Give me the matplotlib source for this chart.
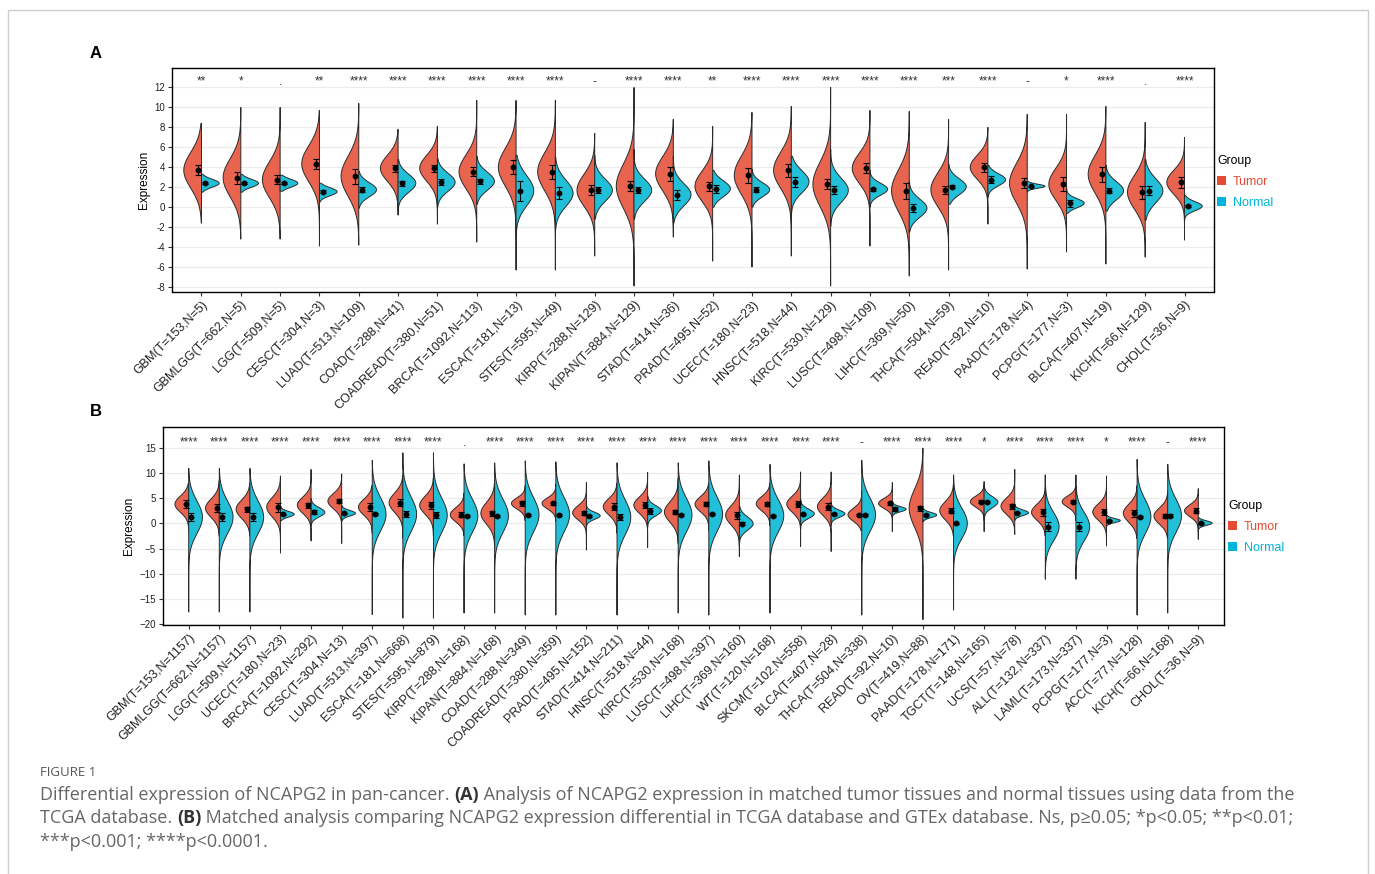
import numpy as np
import matplotlib
matplotlib.use("Agg")
import matplotlib.pyplot as plt
from matplotlib.patches import Patch, Rectangle

plt.rcParams['font.family'] = ['Liberation Sans', 'DejaVu Sans']

RED = '#E8644F'
BLUE = '#22BFD9'
RED_KEY = '#E64B35'
BLUE_KEY = '#00B5D9'
HALF_W = 0.45

# ---------------- panel A : TCGA matched ----------------
labels_a = ["GBM(T=153,N=5)", "GBMLGG(T=662,N=5)", "LGG(T=509,N=5)", "CESC(T=304,N=3)",
            "LUAD(T=513,N=109)", "COAD(T=288,N=41)", "COADREAD(T=380,N=51)", "BRCA(T=1092,N=113)",
            "ESCA(T=181,N=13)", "STES(T=595,N=49)", "KIRP(T=288,N=129)", "KIPAN(T=884,N=129)",
            "STAD(T=414,N=36)", "PRAD(T=495,N=52)", "UCEC(T=180,N=23)", "HNSC(T=518,N=44)",
            "KIRC(T=530,N=129)", "LUSC(T=498,N=109)", "LIHC(T=369,N=50)", "THCA(T=504,N=59)",
            "READ(T=92,N=10)", "PAAD(T=178,N=4)", "PCPG(T=177,N=3)", "BLCA(T=407,N=19)",
            "KICH(T=66,N=129)", "CHOL(T=36,N=9)"]
sig_a = ["**", "*", ".", "**", "****", "****", "****", "****", "****", "****", "-", "****", "****",
         "**", "****", "****", "****", "****", "****", "***", "****", "-", "*", "****", ".", "****"]

tumor_mean_a = [3.7, 2.95, 2.75, 4.35, 3.1, 3.9, 3.9, 3.55, 4.0, 3.55, 1.7, 2.1, 3.35,
                2.1, 3.2, 3.7, 2.3, 3.9, 1.65, 1.75, 4.0, 2.4, 2.3, 3.3, 1.5, 2.5]
tumor_err_a = [0.5, 0.6, 0.45, 0.5, 0.75, 0.35, 0.35, 0.45, 0.7, 0.7, 0.5, 0.5, 0.7,
               0.45, 0.75, 0.65, 0.5, 0.5, 0.8, 0.4, 0.45, 0.5, 0.7, 0.75, 0.65, 0.55]
tumor_sd_a = [1.8, 1.9, 1.8, 1.8, 2.0, 1.3, 1.3, 1.7, 1.9, 1.9, 1.6, 2.2, 1.7,
              1.5, 1.9, 1.8, 2.2, 1.5, 2.1, 1.7, 1.2, 2.0, 1.6, 1.9, 1.7, 1.2]
tumor_lo_a = [-1.6, -3.2, -3.2, -3.9, -3.8, -0.8, -1.7, -3.5, -6.3, -6.3, -4.9, -7.9, -3.0,
              -5.4, -6.0, -4.9, -7.9, -3.9, -6.9, -6.3, -1.7, -6.2, -4.5, -5.7, -5.0, -3.3]
tumor_hi_a = [8.4, 10.0, 10.0, 9.7, 10.4, 7.8, 8.1, 10.7, 10.7, 10.7, 7.4, 12.0, 8.8,
              8.1, 9.5, 10.1, 12.0, 9.7, 9.6, 8.8, 8.0, 9.3, 9.3, 10.1, 8.5, 7.0]
normal_mean_a = [2.4, 2.4, 2.4, 1.55, 1.75, 2.4, 2.5, 2.6, 1.65, 1.4, 1.7, 1.7, 1.25,
                 1.85, 1.75, 2.55, 1.7, 1.8, -0.1, 2.05, 2.75, 2.1, 0.4, 1.65, 1.65, 0.1]
normal_err_a = [0.12, 0.12, 0.12, 0.15, 0.25, 0.25, 0.3, 0.25, 1.0, 0.6, 0.3, 0.3, 0.5,
                0.4, 0.25, 0.5, 0.4, 0.15, 0.4, 0.15, 0.35, 0.05, 0.35, 0.25, 0.45, 0.1]
normal_sd_a = [0.4, 0.4, 0.4, 0.4, 0.7, 0.9, 0.9, 0.9, 1.5, 1.3, 1.1, 1.1, 1.1,
               0.8, 0.7, 1.1, 1.2, 0.6, 0.9, 0.8, 0.6, 0.2, 0.45, 0.9, 1.2, 0.45]
normal_lo_a = [1.5, 1.5, 1.6, 0.5, -0.1, -0.3, 0.0, 0.3, -3.0, -2.2, -1.2, -1.2, -1.6,
               0.0, 0.0, -1.6, -1.9, 0.0, -2.5, 0.3, 1.0, 1.5, -0.6, -0.4, -1.3, -1.4]
normal_hi_a = [3.3, 3.3, 3.2, 2.4, 3.6, 4.8, 4.9, 5.1, 5.2, 5.0, 5.2, 5.8, 5.1,
               3.7, 3.8, 5.1, 5.8, 3.7, 2.6, 4.3, 4.2, 2.6, 1.9, 4.2, 4.8, 1.2]

# ---------------- panel B : TCGA + GTEx ----------------
labels_b = ["GBM(T=153,N=1157)", "GBMLGG(T=662,N=1157)", "LGG(T=509,N=1157)", "UCEC(T=180,N=23)",
            "BRCA(T=1092,N=292)", "CESC(T=304,N=13)", "LUAD(T=513,N=397)", "ESCA(T=181,N=668)",
            "STES(T=595,N=879)", "KIRP(T=288,N=168)", "KIPAN(T=884,N=168)", "COAD(T=288,N=349)",
            "COADREAD(T=380,N=359)", "PRAD(T=495,N=152)", "STAD(T=414,N=211)", "HNSC(T=518,N=44)",
            "KIRC(T=530,N=168)", "LUSC(T=498,N=397)", "LIHC(T=369,N=160)", "WT(T=120,N=168)",
            "SKCM(T=102,N=558)", "BLCA(T=407,N=28)", "THCA(T=504,N=338)", "READ(T=92,N=10)",
            "OV(T=419,N=88)", "PAAD(T=178,N=171)", "TGCT(T=148,N=165)", "UCS(T=57,N=78)",
            "ALL(T=132,N=337)", "LAML(T=173,N=337)", "PCPG(T=177,N=3)", "ACC(T=77,N=128)",
            "KICH(T=66,N=168)", "CHOL(T=36,N=9)"]
sig_b = ["****"] * 9 + ["."] + ["****"] * 12 + ["-", "****", "****", "****", "*", "****",
                                               "****", "****", "*", "****", "-", "****"]

tumor_mean_b = [3.8, 3.0, 2.8, 3.2, 3.6, 4.4, 3.2, 4.1, 3.6, 1.7, 2.0, 3.95, 3.95, 2.1, 3.3, 3.6, 2.25,
                3.8, 1.6, 3.9, 3.8, 3.3, 1.7, 3.95, 3.0, 2.5, 4.3, 3.4, 2.2, 4.3, 2.25, 2.0, 1.45, 2.5]
tumor_err_b = [0.8, 0.8, 0.5, 0.9, 0.5, 0.4, 0.75, 0.75, 0.7, 0.5, 0.5, 0.45, 0.35, 0.4, 0.65, 0.6, 0.3,
               0.45, 0.7, 0.4, 0.55, 0.7, 0.15, 0.35, 0.5, 0.45, 0.35, 0.5, 0.65, 0.3, 0.55, 0.65, 0.45, 0.45]
tumor_sd_b = [1.6, 1.8, 1.8, 1.9, 1.6, 1.5, 1.6, 1.9, 1.8, 1.4, 2.1, 1.1, 1.1, 1.4, 1.6, 1.6, 2.0,
              1.5, 1.9, 1.4, 1.6, 1.7, 1.3, 1.0, 3.8, 1.8, 1.1, 1.6, 1.6, 1.1, 1.6, 1.8, 1.6, 1.2]
tumor_lo_b = [-1.5, -2.5, -2.5, -5.9, -3.5, -4.0, -2.0, -3.0, -2.5, -2.5, -5.0, 0.5, 0.3, -5.3, -2.0,
              -4.8, -4.0, -1.5, -6.6, -0.5, -4.6, -5.6, -1.5, -1.65, -19.1, -2.5, 0.5, -2.2, -2.5,
              0.5, -4.5, -3.0, -3.0, -3.2]
tumor_hi_b = [8.0, 8.5, 8.0, 9.4, 10.7, 9.8, 7.5, 9.5, 9.0, 6.0, 8.0, 7.5, 7.8, 8.1, 8.0, 10.1, 9.0,
              8.0, 9.6, 8.0, 10.2, 10.2, 6.5, 8.1, 14.9, 7.8, 8.3, 10.7, 9.6, 9.6, 9.4, 7.5, 6.5, 6.9]
normal_mean_b = [1.2, 1.2, 1.2, 1.8, 2.2, 2.0, 1.8, 1.8, 1.6, 1.5, 1.5, 1.7, 1.7, 1.5, 1.2, 2.5, 1.65,
                 1.8, -0.05, 1.5, 1.9, 1.9, 1.7, 2.8, 1.65, 0.0, 4.2, 2.1, -0.65, -0.65, 0.55, 1.3,
                 1.5, 0.05]
normal_err_b = [0.8, 0.8, 0.8, 0.1, 0.35, 0.1, 0.2, 0.55, 0.6, 0.25, 0.25, 0.2, 0.2, 0.15, 0.6, 0.6,
                0.2, 0.2, 0.35, 0.2, 0.15, 0.15, 0.15, 0.4, 0.15, 0.1, 0.2, 0.1, 0.9, 0.9, 0.15, 0.2,
                0.3, 0.1]
normal_sd_b = [3.2, 3.2, 3.2, 0.55, 0.9, 0.55, 3.3, 3.4, 3.4, 3.3, 3.3, 3.4, 3.4, 0.7, 3.4, 1.0, 3.3,
               3.4, 1.3, 3.2, 0.9, 0.7, 3.3, 0.5, 0.5, 3.0, 1.1, 0.55, 2.8, 2.8, 0.4, 3.3, 3.3, 0.45]
normal_lo_b = [-17.6, -17.6, -17.6, 0.5, -0.5, 0.4, -18.1, -18.8, -18.8, -17.8, -17.8, -18.2, -18.2,
               -0.5, -18.2, -0.8, -17.8, -18.2, -4.5, -17.8, -1.2, -0.4, -18.2, 1.2, 0.3, -17.2,
               -1.65, 0.6, -11.1, -11.1, -0.6, -18.2, -17.8, -1.6]
normal_hi_b = [10.9, 10.9, 10.9, 3.4, 4.9, 3.5, 12.5, 14.0, 14.0, 11.8, 12.0, 12.4, 12.2, 4.5, 12.0,
               5.5, 12.0, 12.4, 3.5, 11.7, 4.8, 4.2, 12.5, 4.1, 3.0, 9.6, 7.5, 3.7, 9.6, 7.5, 1.9,
               12.7, 11.7, 1.1]


def half_violin(ax, x0, side, mu, sd, lo, hi, color):
    y = np.linspace(lo, hi, 300)
    w = HALF_W * np.exp(-0.5 * ((y - mu) / sd) ** 2)
    xs = np.concatenate([[x0], x0 + side * w, [x0]])
    ys = np.concatenate([[lo], y, [hi]])
    ax.fill(xs, ys, facecolor=color, edgecolor='#2b2b2b', linewidth=0.7, zorder=2)


def draw_panel(ax, labels, sig, tm, te, tsd, tlo, thi, nm, ne, nsd, nlo, nhi,
               ylim, yticks, ytick_labels, sig_y, xpad):
    x = np.arange(1, len(labels) + 1)
    for i in range(len(labels)):
        half_violin(ax, x[i], -1, tm[i], tsd[i], tlo[i], thi[i], RED)
        half_violin(ax, x[i], 1, nm[i], nsd[i], nlo[i], nhi[i], BLUE)
    ax.errorbar(x - 0.09, tm, yerr=te, fmt='o', color='black', ms=3.2,
                capsize=2, elinewidth=0.8, capthick=0.8, zorder=4)
    ax.errorbar(x + 0.09, nm, yerr=ne, fmt='o', color='black', ms=3.2,
                capsize=2, elinewidth=0.8, capthick=0.8, zorder=4)
    for xi, s in zip(x, sig):
        ax.text(xi, sig_y, s, ha='center', va='center', fontsize=8.5, color='#333333')
    ax.set_xlim(1 - xpad, len(labels) + xpad)
    ax.set_ylim(*ylim)
    ax.set_yticks(yticks)
    ax.set_yticklabels(ytick_labels)
    ax.set_xticks(x)
    ax.set_xticklabels(labels, rotation=45, ha='right', rotation_mode='anchor', fontsize=9)
    ax.yaxis.grid(True, color='#EBEBEB', linewidth=0.9)
    ax.set_axisbelow(True)
    ax.tick_params(axis='both', length=3, width=0.8, color='#333333', labelcolor='#222222', pad=2)
    ax.tick_params(axis='y', labelsize=7)
    for sp in ax.spines.values():
        sp.set_linewidth(1.0)
        sp.set_color('black')
    ax.set_ylabel('Expression', fontsize=8.5, labelpad=3)


fig = plt.figure(figsize=(13.75, 8.74), dpi=100)

fig.patches.append(Rectangle((8 / 1375, -0.05), 1360 / 1375, 1.05 - 10 / 874,
                             transform=fig.transFigure, fill=False, edgecolor='#CCCCCC',
                             linewidth=1.0))

ax_a = fig.add_axes([172 / 1375, 1 - 291.5 / 874, 1042 / 1375, 223.5 / 874])
ticks_a = list(range(-8, 13, 2))
draw_panel(ax_a, labels_a, sig_a, tumor_mean_a, tumor_err_a, tumor_sd_a, tumor_lo_a, tumor_hi_a,
           normal_mean_a, normal_err_a, normal_sd_a, normal_lo_a, normal_hi_a,
           (-8.44, 13.94), ticks_a, [str(t) for t in ticks_a], 12.55, 0.75)

ax_b = fig.add_axes([163 / 1375, 1 - 625 / 874, 1061 / 1375, 198 / 874])
ticks_b = list(range(-20, 16, 5))
draw_panel(ax_b, labels_b, sig_b, tumor_mean_b, tumor_err_b, tumor_sd_b, tumor_lo_b, tumor_hi_b,
           normal_mean_b, normal_err_b, normal_sd_b, normal_lo_b, normal_hi_b,
           (-20.15, 19.1), ticks_b, [str(t).replace('-', '\u2212') for t in ticks_b], 16.0, 0.84)

for ax, (lx, ly) in ((ax_a, (1212, 150)), (ax_b, (1223, 495))):
    leg = ax.legend(handles=[Patch(facecolor=RED_KEY, edgecolor='none'),
                             Patch(facecolor=BLUE_KEY, edgecolor='none')],
                    labels=['Tumor', 'Normal'], title='Group', loc='upper left',
                    bbox_to_anchor=(lx / 1375, 1 - ly / 874), bbox_transform=fig.transFigure,
                    frameon=False, fontsize=9, title_fontsize=8.8, handlelength=0.75,
                    handleheight=0.75, handletextpad=0.5, labelspacing=0.72,
                    labelcolor=[RED_KEY, BLUE_KEY], alignment='left', borderaxespad=0)

fig.text(96 / 1375, 1 - 53 / 874, 'A', fontsize=12, fontweight='bold', ha='center', va='center')
fig.text(96 / 1375, 1 - 411 / 874, 'B', fontsize=12, fontweight='bold', ha='center', va='center')

# caption
cap_font = ['Open Sans', 'DejaVu Sans']
fig.text(40 / 1375, 1 - 772 / 874, 'FIGURE 1', fontsize=9.5, color='#555555', family=cap_font,
         va='center', ha='left')
cap_lines = [
    [("Differential expression of NCAPG2 in pan-cancer. ", False), ("(A)", True),
     (" Analysis of NCAPG2 expression in matched tumor tissues and normal tissues using data from the", False)],
    [("TCGA database. ", False), ("(B)", True),
     (" Matched analysis comparing NCAPG2 expression differential in TCGA database and GTEx database. "
      "Ns, p\u22650.05; *p<0.05; **p<0.01;", False)],
    [("***p<0.001; ****p<0.0001.", False)],
]
cap_y = [795, 818, 842]
renderer = fig.canvas.get_renderer()
for parts, yy in zip(cap_lines, cap_y):
    xx = 40
    for txt, bold in parts:
        t = fig.text(xx / 1375, 1 - yy / 874, txt, fontsize=13.0, family=cap_font,
                     color='#333333' if bold else '#666666',
                     fontweight='bold' if bold else 'normal', va='center', ha='left')
        xx += t.get_window_extent(renderer).width

fig.savefig('out.png', dpi=100)
